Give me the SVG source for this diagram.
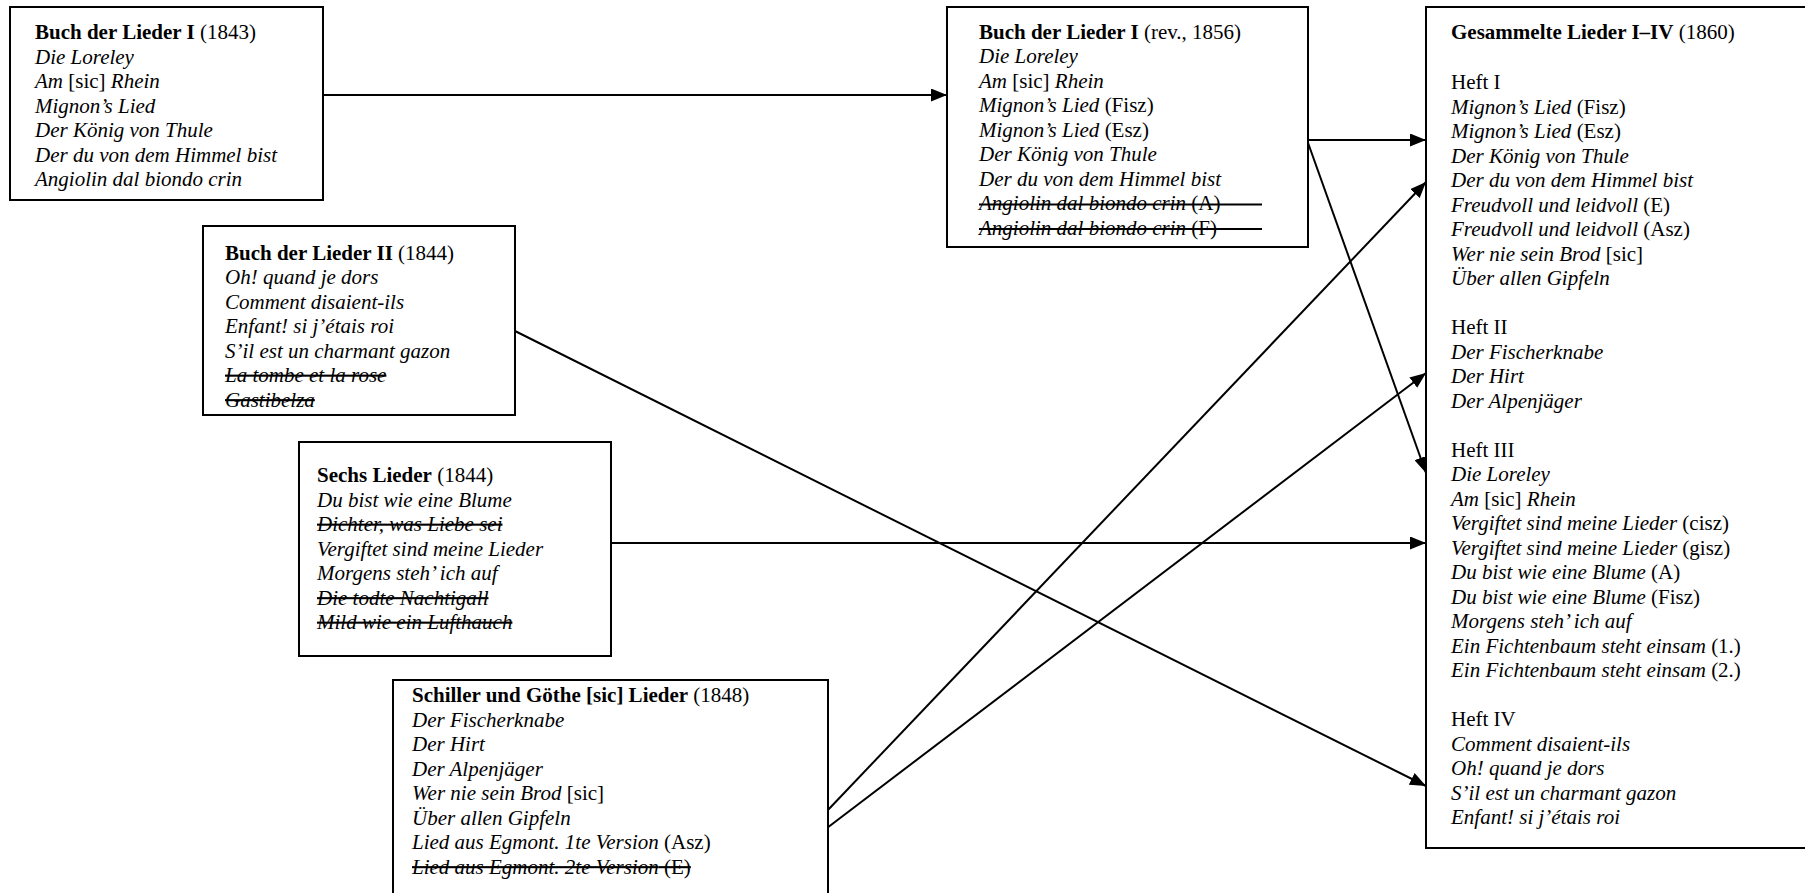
<svg xmlns="http://www.w3.org/2000/svg" width="1805" height="893" viewBox="0 0 1805 893">
<style>
text { font-family: "Liberation Serif", "Times New Roman", serif; font-size: 21px; fill: #000; }
.i { font-style: italic; }
.b { font-weight: bold; }
.s { text-decoration: line-through; }
.box { fill: #fff; stroke: #000; stroke-width: 2; }
.conn line { stroke: #000; stroke-width: 2; marker-end: url(#ah); }
.strike { stroke: #000; stroke-width: 2; }
</style>
<defs>
<marker id="ah" markerUnits="userSpaceOnUse" markerWidth="16" markerHeight="13" refX="16" refY="6.5" orient="auto">
<path d="M0,0 L16,6.5 L0,13 z" fill="#000"/>
</marker>
</defs>
<rect width="1805" height="893" fill="#fff"/>
<g id="connectors" class="conn">
<line x1="323" y1="95" x2="947" y2="95"/>
<line x1="1307" y1="140" x2="1426" y2="140"/>
<line x1="1307" y1="140" x2="1426" y2="473"/>
<line x1="515" y1="331" x2="1426" y2="786"/>
<line x1="611" y1="543" x2="1426" y2="543"/>
<line x1="827" y1="811" x2="1426" y2="182"/>
<line x1="827" y1="828" x2="1426" y2="373"/>
</g>
<g id="buch1-1843">
<rect class="box" x="10" y="7" width="313" height="193"/>
<text x="35" y="39"><tspan class="b">Buch der Lieder I</tspan> (1843)</text>
<text x="35" y="63.5" class="i">Die Loreley</text>
<text x="35" y="88"><tspan class="i">Am</tspan> [sic] <tspan class="i">Rhein</tspan></text>
<text x="35" y="112.5" class="i">Mignon’s Lied</text>
<text x="35" y="137" class="i">Der König von Thule</text>
<text x="35" y="161.5" class="i">Der du von dem Himmel bist</text>
<text x="35" y="186" class="i">Angiolin dal biondo crin</text>
</g>
<g id="buch2-1844">
<rect class="box" x="203" y="226" width="312" height="189"/>
<text x="225" y="259.5"><tspan class="b">Buch der Lieder II</tspan> (1844)</text>
<text x="225" y="284" class="i">Oh! quand je dors</text>
<text x="225" y="308.5" class="i">Comment disaient-ils</text>
<text x="225" y="333" class="i">Enfant! si j’étais roi</text>
<text x="225" y="357.5" class="i">S’il est un charmant gazon</text>
<text x="225" y="382" class="i s">La tombe et la rose</text>
<text x="225" y="406.5" class="i s">Gastibelza</text>
</g>
<g id="sechs-lieder-1844">
<rect class="box" x="299" y="442" width="312" height="214"/>
<text x="317" y="482"><tspan class="b">Sechs Lieder</tspan> (1844)</text>
<text x="317" y="506.5" class="i">Du bist wie eine Blume</text>
<text x="317" y="531" class="i s">Dichter, was Liebe sei</text>
<text x="317" y="555.5" class="i">Vergiftet sind meine Lieder</text>
<text x="317" y="580" class="i">Morgens steh’ ich auf</text>
<text x="317" y="604.5" class="i s">Die todte Nachtigall</text>
<text x="317" y="629" class="i s">Mild wie ein Lufthauch</text>
</g>
<g id="schiller-goethe-1848">
<rect class="box" x="393" y="680" width="435" height="230"/>
<text x="412" y="702"><tspan class="b">Schiller und Göthe [sic] Lieder</tspan> (1848)</text>
<text x="412" y="726.5" class="i">Der Fischerknabe</text>
<text x="412" y="751" class="i">Der Hirt</text>
<text x="412" y="775.5" class="i">Der Alpenjäger</text>
<text x="412" y="800"><tspan class="i">Wer nie sein Brod</tspan> [sic]</text>
<text x="412" y="824.5" class="i">Über allen Gipfeln</text>
<text x="412" y="849"><tspan class="i">Lied aus Egmont. 1te Version</tspan> (Asz)</text>
<text x="412" y="873.5" class="s"><tspan class="i">Lied aus Egmont. 2te Version</tspan> (E)</text>
</g>
<g id="buch1-1856">
<rect class="box" x="947" y="7" width="361" height="240"/>
<text x="979" y="38.5"><tspan class="b">Buch der Lieder I</tspan> (rev., 1856)</text>
<text x="979" y="63" class="i">Die Loreley</text>
<text x="979" y="87.5"><tspan class="i">Am</tspan> [sic] <tspan class="i">Rhein</tspan></text>
<text x="979" y="112"><tspan class="i">Mignon’s Lied</tspan> (Fisz)</text>
<text x="979" y="136.5"><tspan class="i">Mignon’s Lied</tspan> (Esz)</text>
<text x="979" y="161" class="i">Der König von Thule</text>
<text x="979" y="185.5" class="i">Der du von dem Himmel bist</text>
<text x="979" y="210"><tspan class="i">Angiolin dal biondo crin</tspan> (A)</text>
<text x="979" y="234.5"><tspan class="i">Angiolin dal biondo crin</tspan> (F)</text>
<line class="strike" x1="979" y1="204.5" x2="1262" y2="204.5"/>
<line class="strike" x1="979" y1="229" x2="1262" y2="229"/>
</g>
<g id="gesammelte-1860">
<rect class="box" x="1426" y="7" width="390" height="841"/>
<text x="1451" y="39"><tspan class="b">Gesammelte Lieder I–IV</tspan> (1860)</text>
<text x="1451" y="89.3">Heft I</text>
<text x="1451" y="113.8"><tspan class="i">Mignon’s Lied</tspan> (Fisz)</text>
<text x="1451" y="138.3"><tspan class="i">Mignon’s Lied</tspan> (Esz)</text>
<text x="1451" y="162.8" class="i">Der König von Thule</text>
<text x="1451" y="187.3" class="i">Der du von dem Himmel bist</text>
<text x="1451" y="211.8"><tspan class="i">Freudvoll und leidvoll</tspan> (E)</text>
<text x="1451" y="236.3"><tspan class="i">Freudvoll und leidvoll</tspan> (Asz)</text>
<text x="1451" y="260.8"><tspan class="i">Wer nie sein Brod</tspan> [sic]</text>
<text x="1451" y="285.3" class="i">Über allen Gipfeln</text>
<text x="1451" y="334.3">Heft II</text>
<text x="1451" y="358.8" class="i">Der Fischerknabe</text>
<text x="1451" y="383.3" class="i">Der Hirt</text>
<text x="1451" y="407.8" class="i">Der Alpenjäger</text>
<text x="1451" y="456.8">Heft III</text>
<text x="1451" y="481.3" class="i">Die Loreley</text>
<text x="1451" y="505.8"><tspan class="i">Am</tspan> [sic] <tspan class="i">Rhein</tspan></text>
<text x="1451" y="530.3"><tspan class="i">Vergiftet sind meine Lieder</tspan> (cisz)</text>
<text x="1451" y="554.8"><tspan class="i">Vergiftet sind meine Lieder</tspan> (gisz)</text>
<text x="1451" y="579.3"><tspan class="i">Du bist wie eine Blume</tspan> (A)</text>
<text x="1451" y="603.8"><tspan class="i">Du bist wie eine Blume</tspan> (Fisz)</text>
<text x="1451" y="628.3" class="i">Morgens steh’ ich auf</text>
<text x="1451" y="652.8"><tspan class="i">Ein Fichtenbaum steht einsam</tspan> (1.)</text>
<text x="1451" y="677.3"><tspan class="i">Ein Fichtenbaum steht einsam</tspan> (2.)</text>
<text x="1451" y="726.3">Heft IV</text>
<text x="1451" y="750.8" class="i">Comment disaient-ils</text>
<text x="1451" y="775.3" class="i">Oh! quand je dors</text>
<text x="1451" y="799.8" class="i">S’il est un charmant gazon</text>
<text x="1451" y="824.3" class="i">Enfant! si j’étais roi</text>
</g>
</svg>
